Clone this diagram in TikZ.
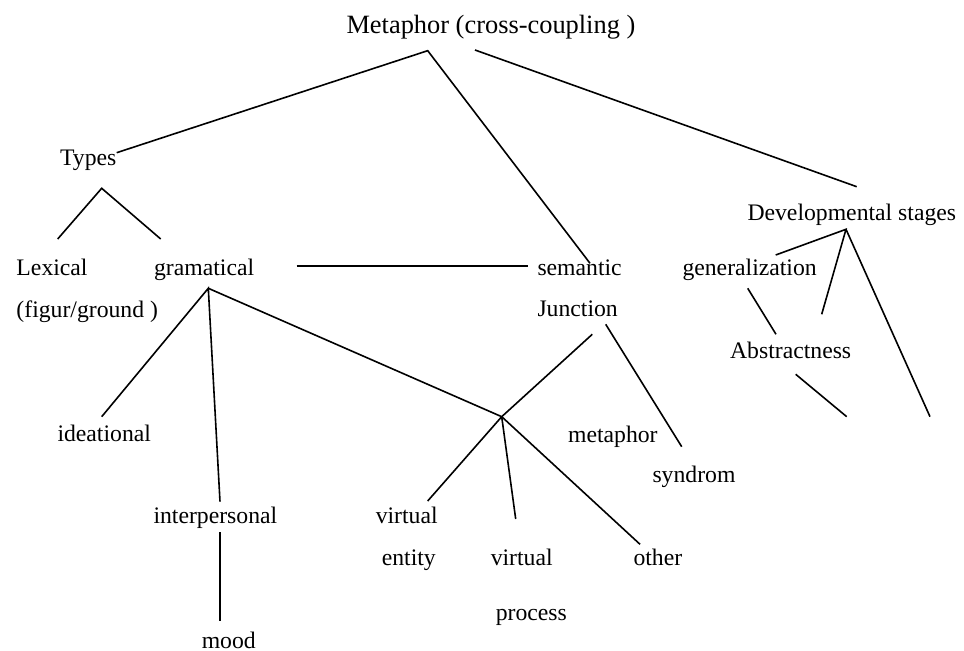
\documentclass[tikz,border=0pt]{standalone}
\usepackage{fontspec}
\setmainfont{Liberation Serif}
\tikzset{
  lbl/.style={anchor=base west,inner sep=0pt,font=\fontsize{11.85pt}{14pt}\selectfont},
  toplbl/.style={lbl,font=\fontsize{13.2pt}{16pt}\selectfont}
}
\begin{document}
\begin{tikzpicture}[x=0.5pt,y=-0.5pt,line width=0.8pt]
      \useasboundingbox (0,0) rectangle (964,651);
      % labels
      \node[toplbl] (meta) at (345.7,33.3) {Metaphor (cross-coupling )};
      \node[lbl] (types) at (59.3,165.7) {Types};
      \node[lbl] (lexical) at (15.7,276) {Lexical};
      \node[lbl] (figur) at (15.7,317.5) {(figur/ground )};
      \node[lbl] (gram) at (153.3,276) {gramatical};
      \node[lbl] (sem) at (536.7,276) {semantic};
      \node[lbl] (junc) at (536.7,316.7) {Junction};
      \node[lbl] (gen) at (681.7,276) {generalization};
      \node[lbl] (dev) at (746.7,221) {Developmental stages};
      \node[lbl] (abs) at (729.3,359) {Abstractness};
      \node[lbl] (ideat) at (56.7,441.7) {ideational};
      \node[lbl] (metaph) at (567.3,442.3) {metaphor};
      \node[lbl] (synd) at (651.7,482.3) {syndrom};
      \node[lbl] (interp) at (152.7,524) {interpersonal};
      \node[lbl] (virtA) at (375,524) {virtual};
      \node[lbl] (entity) at (381,565.7) {entity};
      \node[lbl] (virtB) at (490,565.7) {virtual};
      \node[lbl] (other) at (632.7,565.7) {other};
      \node[lbl] (proc) at (495,621) {process};
      \node[lbl] (mood) at (201,648.3) {mood};
      % line ends
      \coordinate (m-top) at (427.7,50.7);
      \coordinate (m-r) at (475,50);
      \coordinate (types-in) at (116.7,152.7);
      \coordinate (sem-in) at (590,263.3);
      \coordinate (dev-in) at (856.7,186.7);
      \coordinate (t-top) at (101.7,188.3);
      \coordinate (lex-in) at (57.7,239);
      \coordinate (gram-in) at (160.7,239);
      \coordinate (h-l) at (296.7,266);
      \coordinate (h-r) at (528.3,266);
      \coordinate (g-top) at (208.3,288.3);
      \coordinate (ideat-in) at (101.7,416.7);
      \coordinate (interp-in) at (220,501.7);
      \coordinate (j) at (501.7,416.7);
      \coordinate (interp-out) at (220,532.3);
      \coordinate (mood-in) at (220,621);
      \coordinate (j-up) at (592.3,334.3);
      \coordinate (virtA-in) at (427.7,501);
      \coordinate (virtB-in) at (515.7,519);
      \coordinate (other-in) at (640,544.3);
      \coordinate (junc-out) at (605.7,324.3);
      \coordinate (synd-in) at (681.7,446.7);
      \coordinate (d-top) at (846,229.3);
      \coordinate (gen-in) at (775.7,255);
      \coordinate (d-mid) at (821.7,314.3);
      \coordinate (d-right) at (930,416.7);
      \coordinate (gen-out) at (747.7,288.3);
      \coordinate (abs-in) at (776,334.3);
      \coordinate (abs-out) at (795.7,374.3);
      \coordinate (abs-end) at (846.7,416.7);
      % branches
      \draw (types-in) -- (m-top) -- (sem-in);
      \draw (m-r) -- (dev-in);
      \draw (lex-in) -- (t-top) -- (gram-in);
      \draw (h-l) -- (h-r);
      \draw (ideat-in) -- (g-top) -- (interp-in);
      \draw (g-top) -- (j);
      \draw (interp-out) -- (mood-in);
      \draw (j-up) -- (j) -- (virtA-in);
      \draw (j) -- (virtB-in);
      \draw (j) -- (other-in);
      \draw (junc-out) -- (synd-in);
      \draw (gen-in) -- (d-top) -- (d-mid);
      \draw (d-top) -- (d-right);
      \draw (gen-out) -- (abs-in);
      \draw (abs-out) -- (abs-end);
    \end{tikzpicture}
\end{document}
